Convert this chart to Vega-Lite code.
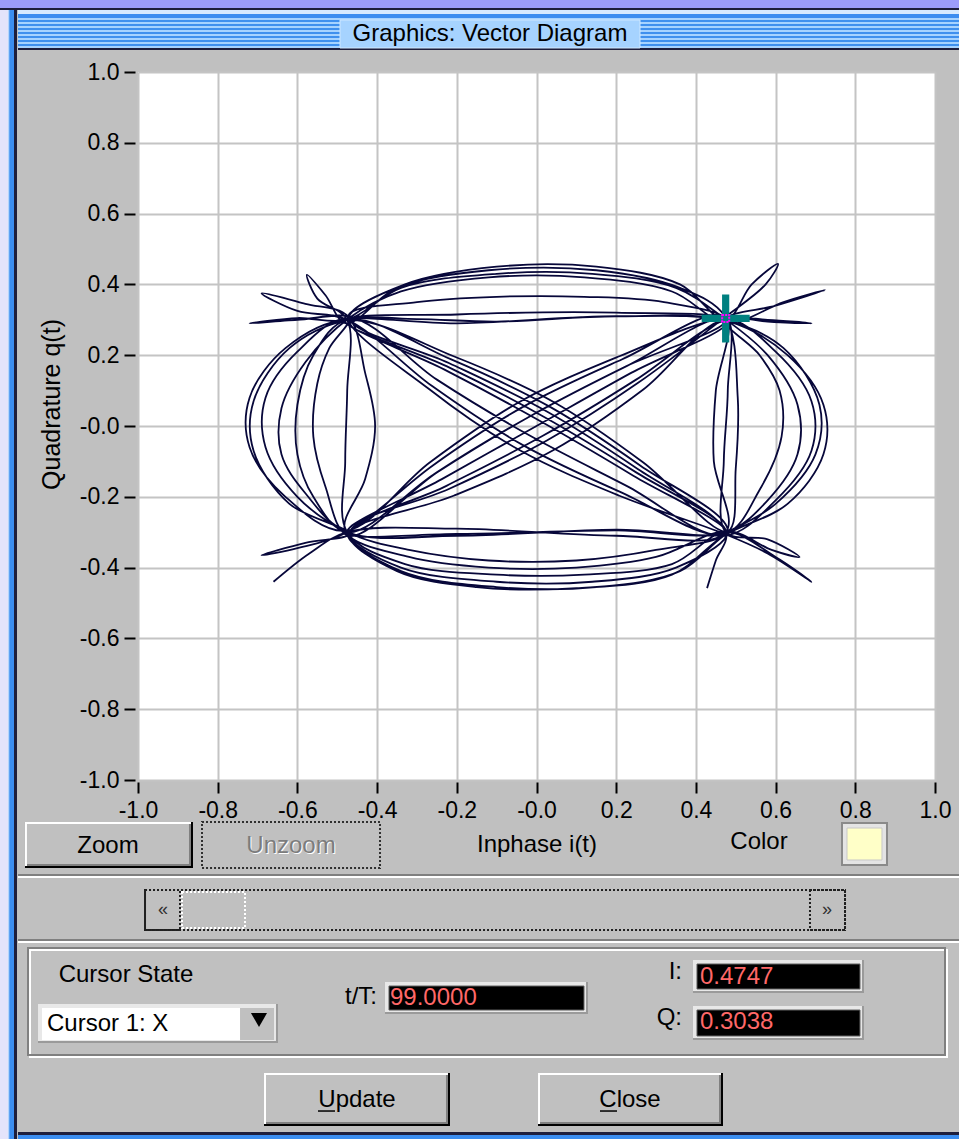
{
"$schema":"https://vega.github.io/schema/vega-lite/v6.json",
"width":797,"height":708,
"autosize":{"type":"none"},
"padding":{"left":138,"top":72,"right":24,"bottom":359},
"background":"#c0c0c0",
"config":{
 "font":"Liberation Sans",
 "view":{"fill":"#ffffff","stroke":null},
 "axis":{"grid":true,"gridColor":"#c4c4c4","gridWidth":2,"domain":false,"tickColor":"#000000","tickWidth":2,"tickSize":11,"labelFont":"Liberation Sans","labelFontSize":23,"labelColor":"#000000","titleFont":"Liberation Sans","titleFontSize":24,"titleFontWeight":"normal","titleColor":"#000000","labelOverlap":false,"labelFlush":false}
},
"datasets":{
"trace":[
{"t":1,"i":0.428,"q":-0.458},{"t":2,"i":0.45,"q":-0.38},{"t":3,"i":0.475,"q":-0.3},{"t":4,"i":0.255,"q":-0.122},{"t":5,"i":0.026,"q":0.041},{"t":6,"i":-0.22,"q":0.178},{"t":7,"i":-0.47,"q":0.305},{"t":8,"i":-0.33,"q":0.4},{"t":9,"i":-0.1,"q":0.45},{"t":10,"i":0.15,"q":0.45},
{"t":11,"i":0.36,"q":0.4},{"t":12,"i":0.475,"q":0.3},{"t":13,"i":0.54,"q":0.4},{"t":14,"i":0.606,"q":0.458},{"t":15,"i":0.575,"q":0.4},{"t":16,"i":0.47,"q":0.305},{"t":17,"i":0.255,"q":0.122},{"t":18,"i":0.026,"q":-0.041},{"t":19,"i":-0.22,"q":-0.178},{"t":20,"i":-0.475,"q":-0.3},
{"t":21,"i":-0.34,"q":-0.41},{"t":22,"i":-0.1,"q":-0.455},{"t":23,"i":0.15,"q":-0.455},{"t":24,"i":0.36,"q":-0.41},{"t":25,"i":0.47,"q":-0.31},{"t":26,"i":0.6,"q":-0.22},{"t":27,"i":0.7,"q":-0.08},{"t":28,"i":0.71,"q":0.06},{"t":29,"i":0.62,"q":0.22},{"t":30,"i":0.48,"q":0.296},
{"t":31,"i":0.2,"q":0.31},{"t":32,"i":-0.1,"q":0.295},{"t":33,"i":-0.3,"q":0.302},{"t":34,"i":-0.475,"q":0.3},{"t":35,"i":-0.62,"q":0.22},{"t":36,"i":-0.71,"q":0.07},{"t":37,"i":-0.71,"q":-0.07},{"t":38,"i":-0.62,"q":-0.22},{"t":39,"i":-0.47,"q":-0.305},{"t":40,"i":-0.58,"q":-0.33},
{"t":41,"i":-0.69,"q":-0.365},{"t":42,"i":-0.6,"q":-0.345},{"t":43,"i":-0.475,"q":-0.3},{"t":44,"i":-0.261,"q":-0.112},{"t":45,"i":-0.034,"q":0.054},{"t":46,"i":0.214,"q":0.188},{"t":47,"i":0.473,"q":0.31},{"t":48,"i":0.48,"q":0.1},{"t":49,"i":0.47,"q":-0.1},{"t":50,"i":0.475,"q":-0.3},
{"t":51,"i":0.58,"q":-0.32},{"t":52,"i":0.66,"q":-0.37},{"t":53,"i":0.59,"q":-0.35},{"t":54,"i":0.48,"q":-0.297},{"t":55,"i":0.3,"q":-0.37},{"t":56,"i":0.1,"q":-0.4},{"t":57,"i":-0.12,"q":-0.4},{"t":58,"i":-0.32,"q":-0.37},{"t":59,"i":-0.48,"q":-0.296},{"t":60,"i":-0.43,"q":-0.15},
{"t":61,"i":-0.405,"q":0},{"t":62,"i":-0.43,"q":0.15},{"t":63,"i":-0.473,"q":0.31},{"t":64,"i":-0.58,"q":0.345},{"t":65,"i":-0.69,"q":0.375},{"t":66,"i":-0.6,"q":0.325},{"t":67,"i":-0.475,"q":0.3},{"t":68,"i":-0.261,"q":0.112},{"t":69,"i":-0.034,"q":-0.054},{"t":70,"i":0.214,"q":-0.188},
{"t":71,"i":0.472,"q":-0.305},{"t":72,"i":0.56,"q":-0.18},{"t":73,"i":0.615,"q":-0.03},{"t":74,"i":0.61,"q":0.1},{"t":75,"i":0.56,"q":0.2},{"t":76,"i":0.475,"q":0.3},{"t":77,"i":0.6,"q":0.34},{"t":78,"i":0.724,"q":0.384},{"t":79,"i":0.62,"q":0.35},{"t":80,"i":0.477,"q":0.292},
{"t":81,"i":0.34,"q":0.38},{"t":82,"i":0.12,"q":0.42},{"t":83,"i":-0.12,"q":0.42},{"t":84,"i":-0.34,"q":0.38},{"t":85,"i":-0.47,"q":0.305},{"t":86,"i":-0.58,"q":0.18},{"t":87,"i":-0.64,"q":0.05},{"t":88,"i":-0.64,"q":-0.08},{"t":89,"i":-0.58,"q":-0.19},{"t":90,"i":-0.475,"q":-0.3},
{"t":91,"i":-0.2,"q":-0.31},{"t":92,"i":0.2,"q":-0.293},{"t":93,"i":0.475,"q":-0.3},{"t":94,"i":0.244,"q":-0.141},{"t":95,"i":0.009,"q":0.014},{"t":96,"i":-0.232,"q":0.16},{"t":97,"i":-0.48,"q":0.297},{"t":98,"i":-0.2,"q":0.29},{"t":99,"i":0.2,"q":0.31},{"t":100,"i":0.48,"q":0.296},
{"t":101,"i":0.63,"q":0.2},{"t":102,"i":0.72,"q":0.06},{"t":103,"i":0.72,"q":-0.08},{"t":104,"i":0.63,"q":-0.22},{"t":105,"i":0.47,"q":-0.31},{"t":106,"i":0.34,"q":-0.42},{"t":107,"i":0.1,"q":-0.458},{"t":108,"i":-0.15,"q":-0.455},{"t":109,"i":-0.35,"q":-0.41},{"t":110,"i":-0.47,"q":-0.305},
{"t":111,"i":-0.226,"q":-0.169},{"t":112,"i":0.017,"q":-0.027},{"t":113,"i":0.25,"q":0.131},{"t":114,"i":0.475,"q":0.3},{"t":115,"i":0.58,"q":0.3},{"t":116,"i":0.69,"q":0.29},{"t":117,"i":0.58,"q":0.295},{"t":118,"i":0.47,"q":0.305},{"t":119,"i":0.208,"q":0.197},{"t":120,"i":-0.043,"q":0.068},
{"t":121,"i":-0.268,"q":-0.103},{"t":122,"i":-0.48,"q":-0.296},{"t":123,"i":-0.63,"q":-0.2},{"t":124,"i":-0.72,"q":-0.06},{"t":125,"i":-0.72,"q":0.08},{"t":126,"i":-0.63,"q":0.22},{"t":127,"i":-0.475,"q":0.3},{"t":128,"i":-0.208,"q":0.197},{"t":129,"i":0.043,"q":0.068},{"t":130,"i":0.268,"q":-0.103},
{"t":131,"i":0.48,"q":-0.297},{"t":132,"i":0.5,"q":-0.12},{"t":133,"i":0.505,"q":0.08},{"t":134,"i":0.473,"q":0.31},{"t":135,"i":0.36,"q":0.39},{"t":136,"i":0.15,"q":0.44},{"t":137,"i":-0.12,"q":0.44},{"t":138,"i":-0.35,"q":0.39},{"t":139,"i":-0.478,"q":0.29},{"t":140,"i":-0.53,"q":0.37},
{"t":141,"i":-0.576,"q":0.427},{"t":142,"i":-0.55,"q":0.36},{"t":143,"i":-0.475,"q":0.3},{"t":144,"i":-0.475,"q":0.1},{"t":145,"i":-0.48,"q":-0.1},{"t":146,"i":-0.475,"q":-0.3},{"t":147,"i":-0.33,"q":-0.39},{"t":148,"i":-0.1,"q":-0.42},{"t":149,"i":0.12,"q":-0.42},{"t":150,"i":0.34,"q":-0.39},
{"t":151,"i":0.475,"q":-0.3},{"t":152,"i":0.6,"q":-0.37},{"t":153,"i":0.69,"q":-0.44},{"t":154,"i":0.58,"q":-0.36},{"t":155,"i":0.472,"q":-0.305},{"t":156,"i":0.208,"q":-0.197},{"t":157,"i":-0.043,"q":-0.068},{"t":158,"i":-0.268,"q":0.103},{"t":159,"i":-0.473,"q":0.31},{"t":160,"i":-0.3,"q":0.35},
{"t":161,"i":-0.1,"q":0.365},{"t":162,"i":0.12,"q":0.365},{"t":163,"i":0.32,"q":0.35},{"t":164,"i":0.475,"q":0.3},{"t":165,"i":0.226,"q":0.169},{"t":166,"i":-0.017,"q":0.027},{"t":167,"i":-0.25,"q":-0.131},{"t":168,"i":-0.472,"q":-0.31},{"t":169,"i":-0.53,"q":-0.17},{"t":170,"i":-0.56,"q":-0.03},
{"t":171,"i":-0.55,"q":0.12},{"t":172,"i":-0.52,"q":0.22},{"t":173,"i":-0.47,"q":0.305},{"t":174,"i":-0.6,"q":0.3},{"t":175,"i":-0.72,"q":0.29},{"t":176,"i":-0.6,"q":0.305},{"t":177,"i":-0.475,"q":0.3},{"t":178,"i":-0.34,"q":0.39},{"t":179,"i":-0.1,"q":0.43},{"t":180,"i":0.14,"q":0.43},
{"t":181,"i":0.35,"q":0.39},{"t":182,"i":0.47,"q":0.305},{"t":183,"i":0.58,"q":0.2},{"t":184,"i":0.655,"q":0.06},{"t":185,"i":0.655,"q":-0.08},{"t":186,"i":0.58,"q":-0.21},{"t":187,"i":0.475,"q":-0.3},{"t":188,"i":0.2,"q":-0.295},{"t":189,"i":-0.2,"q":-0.305},{"t":190,"i":-0.475,"q":-0.3},
{"t":191,"i":-0.2375,"q":-0.15},{"t":192,"i":0,"q":0},{"t":193,"i":0.2375,"q":0.15},{"t":194,"i":0.48,"q":0.296},{"t":195,"i":0.2,"q":0.32},{"t":196,"i":-0.2,"q":0.315},{"t":197,"i":-0.48,"q":0.297},{"t":198,"i":-0.226,"q":0.169},{"t":199,"i":0.017,"q":0.027},{"t":200,"i":0.25,"q":-0.131},
{"t":201,"i":0.475,"q":-0.3},{"t":202,"i":0.3,"q":-0.35},{"t":203,"i":0.1,"q":-0.38},{"t":204,"i":-0.12,"q":-0.38},{"t":205,"i":-0.32,"q":-0.35},{"t":206,"i":-0.475,"q":-0.3},{"t":207,"i":-0.6,"q":-0.2},{"t":208,"i":-0.68,"q":-0.06},{"t":209,"i":-0.68,"q":0.08},{"t":210,"i":-0.6,"q":0.21},
{"t":211,"i":-0.47,"q":0.305},{"t":212,"i":-0.25,"q":0.131},{"t":213,"i":-0.017,"q":-0.027},{"t":214,"i":0.226,"q":-0.169},{"t":215,"i":0.47,"q":-0.31},{"t":216,"i":0.6,"q":-0.21},{"t":217,"i":0.69,"q":-0.07},{"t":218,"i":0.69,"q":0.07},{"t":219,"i":0.6,"q":0.21},{"t":220,"i":0.475,"q":0.3},
{"t":221,"i":0.268,"q":0.103},{"t":222,"i":0.043,"q":-0.068},{"t":223,"i":-0.208,"q":-0.197},{"t":224,"i":-0.47,"q":-0.305},{"t":225,"i":-0.34,"q":-0.4},{"t":226,"i":-0.1,"q":-0.44},{"t":227,"i":0.14,"q":-0.44},{"t":228,"i":0.35,"q":-0.4},{"t":229,"i":0.48,"q":-0.297},{"t":230,"i":0.261,"q":-0.112},
{"t":231,"i":0.034,"q":0.054},{"t":232,"i":-0.214,"q":0.188},{"t":233,"i":-0.475,"q":0.3},{"t":234,"i":-0.56,"q":0.2},{"t":235,"i":-0.6,"q":0.06},{"t":236,"i":-0.6,"q":-0.08},{"t":237,"i":-0.56,"q":-0.2},{"t":238,"i":-0.475,"q":-0.3},{"t":239,"i":-0.25,"q":-0.131},{"t":240,"i":-0.017,"q":0.027},
{"t":241,"i":0.226,"q":0.169},{"t":242,"i":0.475,"q":0.3},{"t":243,"i":0.45,"q":0.1},{"t":244,"i":0.445,"q":-0.1},{"t":245,"i":0.475,"q":-0.3},{"t":246,"i":0.2,"q":-0.31},{"t":247,"i":-0.2,"q":-0.29},{"t":248,"i":-0.475,"q":-0.3},{"t":249,"i":-0.57,"q":-0.36},{"t":250,"i":-0.66,"q":-0.44}
],
"cursor":[{"i":0.4747,"q":0.3038}],
"raised":[{"x1":-1.2836,"x2":-0.862,"y1":-1.1186,"y2":-1.2486},{"x1":-0.6838,"x2":-0.2171,"y1":-1.8277,"y2":-1.9775},{"x1":0.0038,"x2":0.468,"y1":-1.8277,"y2":-1.9775}],
"fields":[{"x1":-0.3802,"x2":0.1292,"y1":-1.5707,"y2":-1.6611},{"x1":0.3927,"x2":0.8218,"y1":-1.5085,"y2":-1.6017},{"x1":0.3927,"x2":0.8218,"y1":-1.6385,"y2":-1.7345}],
"grooves":[{"x1":-1.3011,"x2":1.0602,"y":-1.2684},{"x1":-1.3011,"x2":1.0602,"y":-1.452}],
"groupbox":[{"x1":-1.276,"x2":1.0251,"y1":-1.4746,"y2":-1.7769}],
"scrollbar":[{"x1":-0.9824,"x2":0.7742,"y1":-1.3107,"y2":-1.4237}],
"scrollboxes":[{"x1":-0.9824,"x2":-0.8946,"y1":-1.3107,"y2":-1.4237},{"x1":0.6863,"x2":0.7742,"y1":-1.3107,"y2":-1.4237}],
"thumb":[{"x1":-0.8946,"x2":-0.7315,"y1":-1.3107,"y2":-1.4237}],
"textC":[{"x":-0.1167,"y":1.1073,"text":"Graphics: Vector Diagram"},{"x":-1.0753,"y":-1.1864,"text":"Zoom"},{"x":0.5583,"y":-1.1751,"text":"Color"},{"x":-1.0301,"y":-1.5508,"text":"Cursor State"},{"x":-0.4504,"y":-1.904,"text":"Update"},{"x":0.2346,"y":-1.904,"text":"Close"}],
"textR":[{"x":-0.4003,"y":-1.613,"text":"t/T:"},{"x":0.3651,"y":-1.5424,"text":"I:"},{"x":0.3651,"y":-1.6724,"text":"Q:"}],
"textRed":[{"x":-0.3676,"y":-1.6158,"text":"99.0000"},{"x":0.4103,"y":-1.5565,"text":"0.4747"},{"x":0.4103,"y":-1.6837,"text":"0.3038"}],
"underline":[{"x1":-0.5483,"x2":-0.5057,"y":-1.9351},{"x1":0.1593,"x2":0.202,"y":-1.9351}]
},
"layer":[
{"data":{"name":"trace"},
 "mark":{"type":"line","interpolate":"catmull-rom","color":"#07073a","strokeWidth":1.8,"clip":true},
 "encoding":{
  "x":{"field":"i","type":"quantitative","title":"Inphase i(t)","scale":{"domain":[-1,1],"nice":false,"zero":false},
       "axis":{"title":"Inphase i(t)","values":[-1,-0.8,-0.6,-0.4,-0.2,0,0.2,0.4,0.6,0.8,1],"labelExpr":"(datum.value <= 0 ? '-' : '') + format(abs(datum.value), '.1f')","offset":2,"labelPadding":6,"titlePadding":10}},
  "y":{"field":"q","type":"quantitative","title":"Quadrature q(t)","scale":{"domain":[-1,1],"nice":false,"zero":false},
       "axis":{"title":"Quadrature q(t)","values":[-1,-0.8,-0.6,-0.4,-0.2,0,0.2,0.4,0.6,0.8,1],"labelExpr":"(datum.value <= 0 ? '-' : '') + format(abs(datum.value), '.1f')","offset":3,"labelPadding":5,"titlePadding":15,"titleFontSize":25,"titleY":332}},
  "order":{"field":"t","type":"quantitative"}}},
{"data":{"name":"cursor"},
 "mark":{"type":"point","shape":"M-1,-0.15H1V0.15H-1Z M-0.15,-1H0.15V1H-0.15Z","filled":true,"color":"#008080","size":2304,"opacity":1,"strokeWidth":0},
 "encoding":{"x":{"field":"i","type":"quantitative","title":"Inphase i(t)","scale":{"domain":[-1,1],"nice":false,"zero":false}},"y":{"field":"q","type":"quantitative","title":"Quadrature q(t)","scale":{"domain":[-1,1],"nice":false,"zero":false}}}},
{"data":{"name":"cursor"},
 "mark":{"type":"point","shape":"square","filled":false,"color":"#ff00ff","size":50,"strokeWidth":2,"strokeDash":[2,1],"opacity":1},
 "encoding":{"x":{"field":"i","type":"quantitative","title":"Inphase i(t)","scale":{"domain":[-1,1],"nice":false,"zero":false}},"y":{"field":"q","type":"quantitative","title":"Quadrature q(t)","scale":{"domain":[-1,1],"nice":false,"zero":false}}}},
{"data":{"values":[{"x1":-1.3463,"x2":1.0602,"y1":1.2034,"y2":1.1525}]},
 "mark":{"type":"rect","fill":{"gradient":"linear","x1":0,"y1":0,"x2":0,"y2":1,"stops":[{"offset":0,"color":"#9c9cfa"},{"offset":0.44,"color":"#9c9cfa"},{"offset":0.44,"color":"#1e1e3c"},{"offset":0.56,"color":"#1e1e3c"},{"offset":0.56,"color":"#d6eaff"},{"offset":0.8,"color":"#d6eaff"},{"offset":0.8,"color":"#3b8df0"},{"offset":1,"color":"#3b8df0"}]}},
 "encoding":{"x":{"field":"x1","type":"quantitative","title":"Inphase i(t)","scale":{"domain":[-1,1],"nice":false,"zero":false}},"x2":{"field":"x2"},"y":{"field":"y1","type":"quantitative","title":"Quadrature q(t)","scale":{"domain":[-1,1],"nice":false,"zero":false}},"y2":{"field":"y2"}}},
{"data":{"values":[{"x1":-1.3463,"x2":1.0602,"y1":-1.9944,"y2":-2.0141}]},
 "mark":{"type":"rect","fill":{"gradient":"linear","x1":0,"y1":0,"x2":0,"y2":1,"stops":[{"offset":0,"color":"#1e1e3c"},{"offset":0.4,"color":"#1e1e3c"},{"offset":0.4,"color":"#3b8df0"},{"offset":1,"color":"#3b8df0"}]}},
 "encoding":{"x":{"field":"x1","type":"quantitative","title":"Inphase i(t)","scale":{"domain":[-1,1],"nice":false,"zero":false}},"x2":{"field":"x2"},"y":{"field":"y1","type":"quantitative","title":"Quadrature q(t)","scale":{"domain":[-1,1],"nice":false,"zero":false}},"y2":{"field":"y2"}}},
{"data":{"values":[{"x1":-1.3463,"x2":-1.3011,"y1":1.1751,"y2":-2.0141}]},
 "mark":{"type":"rect","fill":{"gradient":"linear","x1":0,"y1":0,"x2":1,"y2":0,"stops":[{"offset":0,"color":"#e4e4fb"},{"offset":0.45,"color":"#e4e4fb"},{"offset":0.45,"color":"#d6eaff"},{"offset":0.55,"color":"#3b8df0"},{"offset":0.8,"color":"#3b8df0"},{"offset":0.8,"color":"#1e1e3c"},{"offset":0.92,"color":"#1e1e3c"},{"offset":0.92,"color":"#c0c0c0"},{"offset":1,"color":"#c0c0c0"}]}},
 "encoding":{"x":{"field":"x1","type":"quantitative","title":"Inphase i(t)","scale":{"domain":[-1,1],"nice":false,"zero":false}},"x2":{"field":"x2"},"y":{"field":"y1","type":"quantitative","title":"Quadrature q(t)","scale":{"domain":[-1,1],"nice":false,"zero":false}},"y2":{"field":"y2"}}},
{"data":{"values":[{"x1":-1.3011,"x2":1.0602,"y1":1.1525,"y2":1.0621}]},
 "mark":{"type":"rect","fill":{"gradient":"linear","x1":0,"y1":0,"x2":0,"y2":1,"stops":[{"offset":0,"color":"#a6d3ff"},{"offset":0.0625,"color":"#a6d3ff"},{"offset":0.0625,"color":"#3f90ee"},{"offset":0.109,"color":"#3f90ee"},{"offset":0.109,"color":"#a6d3ff"},{"offset":0.1875,"color":"#a6d3ff"},{"offset":0.1875,"color":"#3f90ee"},{"offset":0.234,"color":"#3f90ee"},{"offset":0.234,"color":"#a6d3ff"},{"offset":0.3125,"color":"#a6d3ff"},{"offset":0.3125,"color":"#3f90ee"},{"offset":0.359,"color":"#3f90ee"},{"offset":0.359,"color":"#a6d3ff"},{"offset":0.4375,"color":"#a6d3ff"},{"offset":0.4375,"color":"#3f90ee"},{"offset":0.484,"color":"#3f90ee"},{"offset":0.484,"color":"#a6d3ff"},{"offset":0.5625,"color":"#a6d3ff"},{"offset":0.5625,"color":"#3f90ee"},{"offset":0.609,"color":"#3f90ee"},{"offset":0.609,"color":"#a6d3ff"},{"offset":0.6875,"color":"#a6d3ff"},{"offset":0.6875,"color":"#3f90ee"},{"offset":0.734,"color":"#3f90ee"},{"offset":0.734,"color":"#a6d3ff"},{"offset":0.8125,"color":"#a6d3ff"},{"offset":0.8125,"color":"#3f90ee"},{"offset":0.859,"color":"#3f90ee"},{"offset":0.859,"color":"#a6d3ff"},{"offset":0.9375,"color":"#a6d3ff"},{"offset":0.9375,"color":"#1e1e3c"},{"offset":1,"color":"#1e1e3c"}]}},
 "encoding":{"x":{"field":"x1","type":"quantitative","title":"Inphase i(t)","scale":{"domain":[-1,1],"nice":false,"zero":false}},"x2":{"field":"x2"},"y":{"field":"y1","type":"quantitative","title":"Quadrature q(t)","scale":{"domain":[-1,1],"nice":false,"zero":false}},"y2":{"field":"y2"}}},
{"data":{"values":[{"x1":-0.4931,"x2":0.2597,"y1":1.1469,"y2":1.0678}]},
 "mark":{"type":"rect","fill":"#a6d3ff","stroke":"#cfe8ff","strokeWidth":1},
 "encoding":{"x":{"field":"x1","type":"quantitative","title":"Inphase i(t)","scale":{"domain":[-1,1],"nice":false,"zero":false}},"x2":{"field":"x2"},"y":{"field":"y1","type":"quantitative","title":"Quadrature q(t)","scale":{"domain":[-1,1],"nice":false,"zero":false}},"y2":{"field":"y2"}}},
{"data":{"name":"grooves"},
 "mark":{"type":"rule","color":"#808080","strokeWidth":2},
 "encoding":{"x":{"field":"x1","type":"quantitative","title":"Inphase i(t)","scale":{"domain":[-1,1],"nice":false,"zero":false}},"x2":{"field":"x2"},"y":{"field":"y","type":"quantitative","title":"Quadrature q(t)","scale":{"domain":[-1,1],"nice":false,"zero":false}}}},
{"data":{"name":"grooves"},
 "mark":{"type":"rule","color":"#ffffff","strokeWidth":2,"yOffset":2},
 "encoding":{"x":{"field":"x1","type":"quantitative","title":"Inphase i(t)","scale":{"domain":[-1,1],"nice":false,"zero":false}},"x2":{"field":"x2"},"y":{"field":"y","type":"quantitative","title":"Quadrature q(t)","scale":{"domain":[-1,1],"nice":false,"zero":false}}}},
{"data":{"name":"groupbox"},
 "mark":{"type":"rect","fill":null,"fillOpacity":0,"stroke":"#ffffff","strokeWidth":2,"xOffset":2,"x2Offset":2,"yOffset":2,"y2Offset":2},
 "encoding":{"x":{"field":"x1","type":"quantitative","title":"Inphase i(t)","scale":{"domain":[-1,1],"nice":false,"zero":false}},"x2":{"field":"x2"},"y":{"field":"y1","type":"quantitative","title":"Quadrature q(t)","scale":{"domain":[-1,1],"nice":false,"zero":false}},"y2":{"field":"y2"}}},
{"data":{"name":"groupbox"},
 "mark":{"type":"rect","fill":null,"fillOpacity":0,"stroke":"#808080","strokeWidth":2},
 "encoding":{"x":{"field":"x1","type":"quantitative","title":"Inphase i(t)","scale":{"domain":[-1,1],"nice":false,"zero":false}},"x2":{"field":"x2"},"y":{"field":"y1","type":"quantitative","title":"Quadrature q(t)","scale":{"domain":[-1,1],"nice":false,"zero":false}},"y2":{"field":"y2"}}},
{"data":{"name":"raised"},
 "mark":{"type":"rect","fill":"#000000"},
 "encoding":{"x":{"field":"x1","type":"quantitative","title":"Inphase i(t)","scale":{"domain":[-1,1],"nice":false,"zero":false}},"x2":{"field":"x2"},"y":{"field":"y1","type":"quantitative","title":"Quadrature q(t)","scale":{"domain":[-1,1],"nice":false,"zero":false}},"y2":{"field":"y2"}}},
{"data":{"name":"raised"},
 "mark":{"type":"rect","fill":"#ffffff","x2Offset":-2,"y2Offset":-2},
 "encoding":{"x":{"field":"x1","type":"quantitative","title":"Inphase i(t)","scale":{"domain":[-1,1],"nice":false,"zero":false}},"x2":{"field":"x2"},"y":{"field":"y1","type":"quantitative","title":"Quadrature q(t)","scale":{"domain":[-1,1],"nice":false,"zero":false}},"y2":{"field":"y2"}}},
{"data":{"name":"raised"},
 "mark":{"type":"rect","fill":"#808080","xOffset":2,"yOffset":2,"x2Offset":-2,"y2Offset":-2},
 "encoding":{"x":{"field":"x1","type":"quantitative","title":"Inphase i(t)","scale":{"domain":[-1,1],"nice":false,"zero":false}},"x2":{"field":"x2"},"y":{"field":"y1","type":"quantitative","title":"Quadrature q(t)","scale":{"domain":[-1,1],"nice":false,"zero":false}},"y2":{"field":"y2"}}},
{"data":{"name":"raised"},
 "mark":{"type":"rect","fill":"#c0c0c0","xOffset":2,"yOffset":2,"x2Offset":-4,"y2Offset":-4},
 "encoding":{"x":{"field":"x1","type":"quantitative","title":"Inphase i(t)","scale":{"domain":[-1,1],"nice":false,"zero":false}},"x2":{"field":"x2"},"y":{"field":"y1","type":"quantitative","title":"Quadrature q(t)","scale":{"domain":[-1,1],"nice":false,"zero":false}},"y2":{"field":"y2"}}},
{"data":{"values":[{"x1":-0.8394,"x2":-0.3927,"y1":-1.1186,"y2":-1.2486}]},
 "mark":{"type":"rect","fill":"#c0c0c0","stroke":"#303030","strokeWidth":2,"strokeDash":[2,2]},
 "encoding":{"x":{"field":"x1","type":"quantitative","title":"Inphase i(t)","scale":{"domain":[-1,1],"nice":false,"zero":false}},"x2":{"field":"x2"},"y":{"field":"y1","type":"quantitative","title":"Quadrature q(t)","scale":{"domain":[-1,1],"nice":false,"zero":false}},"y2":{"field":"y2"}}},
{"data":{"values":[{"x1":0.7666,"x2":0.8795,"y1":-1.1215,"y2":-1.2401}]},
 "mark":{"type":"rect","fill":"#e4e4e4","stroke":"#8a8a8a","strokeWidth":2},
 "encoding":{"x":{"field":"x1","type":"quantitative","title":"Inphase i(t)","scale":{"domain":[-1,1],"nice":false,"zero":false}},"x2":{"field":"x2"},"y":{"field":"y1","type":"quantitative","title":"Quadrature q(t)","scale":{"domain":[-1,1],"nice":false,"zero":false}},"y2":{"field":"y2"}}},
{"data":{"values":[{"x1":0.7666,"x2":0.8795,"y1":-1.1215,"y2":-1.2401}]},
 "mark":{"type":"rect","fill":"#ffffc8","stroke":"#c8c8c8","strokeWidth":1,"xOffset":5,"yOffset":5,"x2Offset":-5,"y2Offset":-5},
 "encoding":{"x":{"field":"x1","type":"quantitative","title":"Inphase i(t)","scale":{"domain":[-1,1],"nice":false,"zero":false}},"x2":{"field":"x2"},"y":{"field":"y1","type":"quantitative","title":"Quadrature q(t)","scale":{"domain":[-1,1],"nice":false,"zero":false}},"y2":{"field":"y2"}}},
{"data":{"name":"scrollbar"},
 "mark":{"type":"rect","fill":"#c0c0c0","stroke":"#202020","strokeWidth":2,"strokeDash":[2,2]},
 "encoding":{"x":{"field":"x1","type":"quantitative","title":"Inphase i(t)","scale":{"domain":[-1,1],"nice":false,"zero":false}},"x2":{"field":"x2"},"y":{"field":"y1","type":"quantitative","title":"Quadrature q(t)","scale":{"domain":[-1,1],"nice":false,"zero":false}},"y2":{"field":"y2"}}},
{"data":{"name":"thumb"},
 "mark":{"type":"rect","fill":null,"fillOpacity":0,"stroke":"#ffffff","strokeWidth":2,"strokeDash":[2,2],"xOffset":2,"yOffset":2,"y2Offset":-2},
 "encoding":{"x":{"field":"x1","type":"quantitative","title":"Inphase i(t)","scale":{"domain":[-1,1],"nice":false,"zero":false}},"x2":{"field":"x2"},"y":{"field":"y1","type":"quantitative","title":"Quadrature q(t)","scale":{"domain":[-1,1],"nice":false,"zero":false}},"y2":{"field":"y2"}}},
{"data":{"name":"scrollboxes"},
 "mark":{"type":"rect","fill":null,"fillOpacity":0,"stroke":"#202020","strokeWidth":2,"strokeDash":[2,2]},
 "encoding":{"x":{"field":"x1","type":"quantitative","title":"Inphase i(t)","scale":{"domain":[-1,1],"nice":false,"zero":false}},"x2":{"field":"x2"},"y":{"field":"y1","type":"quantitative","title":"Quadrature q(t)","scale":{"domain":[-1,1],"nice":false,"zero":false}},"y2":{"field":"y2"}}},
{"data":{"values":[{"x":-0.9373,"y":-1.3672,"text":"«"},{"x":0.729,"y":-1.3672,"text":"»"}]},
 "mark":{"type":"text","fontSize":18,"color":"#303030","align":"center","baseline":"middle"},
 "encoding":{"x":{"field":"x","type":"quantitative","title":"Inphase i(t)","scale":{"domain":[-1,1],"nice":false,"zero":false}},"y":{"field":"y","type":"quantitative","title":"Quadrature q(t)","scale":{"domain":[-1,1],"nice":false,"zero":false}},"text":{"field":"text"}}},
{"data":{"name":"fields"},
 "mark":{"type":"rect","fill":"#9a9a9a"},
 "encoding":{"x":{"field":"x1","type":"quantitative","title":"Inphase i(t)","scale":{"domain":[-1,1],"nice":false,"zero":false}},"x2":{"field":"x2"},"y":{"field":"y1","type":"quantitative","title":"Quadrature q(t)","scale":{"domain":[-1,1],"nice":false,"zero":false}},"y2":{"field":"y2"}}},
{"data":{"name":"fields"},
 "mark":{"type":"rect","fill":"#e8e8e8","x2Offset":-2,"y2Offset":-2},
 "encoding":{"x":{"field":"x1","type":"quantitative","title":"Inphase i(t)","scale":{"domain":[-1,1],"nice":false,"zero":false}},"x2":{"field":"x2"},"y":{"field":"y1","type":"quantitative","title":"Quadrature q(t)","scale":{"domain":[-1,1],"nice":false,"zero":false}},"y2":{"field":"y2"}}},
{"data":{"name":"fields"},
 "mark":{"type":"rect","fill":"#000000","stroke":"#606060","strokeWidth":1,"xOffset":4,"yOffset":4,"x2Offset":-4,"y2Offset":-4},
 "encoding":{"x":{"field":"x1","type":"quantitative","title":"Inphase i(t)","scale":{"domain":[-1,1],"nice":false,"zero":false}},"x2":{"field":"x2"},"y":{"field":"y1","type":"quantitative","title":"Quadrature q(t)","scale":{"domain":[-1,1],"nice":false,"zero":false}},"y2":{"field":"y2"}}},
{"data":{"values":[{"x1":-1.2509,"x2":-0.6487,"y1":-1.6328,"y2":-1.743}]},
 "mark":{"type":"rect","fill":"#9a9a9a"},
 "encoding":{"x":{"field":"x1","type":"quantitative","title":"Inphase i(t)","scale":{"domain":[-1,1],"nice":false,"zero":false}},"x2":{"field":"x2"},"y":{"field":"y1","type":"quantitative","title":"Quadrature q(t)","scale":{"domain":[-1,1],"nice":false,"zero":false}},"y2":{"field":"y2"}}},
{"data":{"values":[{"x1":-1.2509,"x2":-0.6487,"y1":-1.6328,"y2":-1.743}]},
 "mark":{"type":"rect","fill":"#e8e8e8","x2Offset":-2,"y2Offset":-2},
 "encoding":{"x":{"field":"x1","type":"quantitative","title":"Inphase i(t)","scale":{"domain":[-1,1],"nice":false,"zero":false}},"x2":{"field":"x2"},"y":{"field":"y1","type":"quantitative","title":"Quadrature q(t)","scale":{"domain":[-1,1],"nice":false,"zero":false}},"y2":{"field":"y2"}}},
{"data":{"values":[{"x1":-1.2409,"x2":-0.744,"y1":-1.6441,"y2":-1.7345}]},
 "mark":{"type":"rect","fill":"#ffffff"},
 "encoding":{"x":{"field":"x1","type":"quantitative","title":"Inphase i(t)","scale":{"domain":[-1,1],"nice":false,"zero":false}},"x2":{"field":"x2"},"y":{"field":"y1","type":"quantitative","title":"Quadrature q(t)","scale":{"domain":[-1,1],"nice":false,"zero":false}},"y2":{"field":"y2"}}},
{"data":{"values":[{"x1":-0.744,"x2":-0.6587,"y1":-1.6441,"y2":-1.7345}]},
 "mark":{"type":"rect","fill":"#c0c0c0"},
 "encoding":{"x":{"field":"x1","type":"quantitative","title":"Inphase i(t)","scale":{"domain":[-1,1],"nice":false,"zero":false}},"x2":{"field":"x2"},"y":{"field":"y1","type":"quantitative","title":"Quadrature q(t)","scale":{"domain":[-1,1],"nice":false,"zero":false}},"y2":{"field":"y2"}}},
{"data":{"values":[{"x":-0.6964,"y":-1.678}]},
 "mark":{"type":"point","shape":"triangle-down","filled":true,"color":"#000000","size":260,"opacity":1},
 "encoding":{"x":{"field":"x","type":"quantitative","title":"Inphase i(t)","scale":{"domain":[-1,1],"nice":false,"zero":false}},"y":{"field":"y","type":"quantitative","title":"Quadrature q(t)","scale":{"domain":[-1,1],"nice":false,"zero":false}}}},
{"data":{"name":"textC"},
 "mark":{"type":"text","fontSize":24,"color":"#000000","align":"center","baseline":"middle"},
 "encoding":{"x":{"field":"x","type":"quantitative","title":"Inphase i(t)","scale":{"domain":[-1,1],"nice":false,"zero":false}},"y":{"field":"y","type":"quantitative","title":"Quadrature q(t)","scale":{"domain":[-1,1],"nice":false,"zero":false}},"text":{"field":"text"}}},
{"data":{"name":"textR"},
 "mark":{"type":"text","fontSize":24,"color":"#000000","align":"right","baseline":"middle"},
 "encoding":{"x":{"field":"x","type":"quantitative","title":"Inphase i(t)","scale":{"domain":[-1,1],"nice":false,"zero":false}},"y":{"field":"y","type":"quantitative","title":"Quadrature q(t)","scale":{"domain":[-1,1],"nice":false,"zero":false}},"text":{"field":"text"}}},
{"data":{"values":[{"x":-1.2284,"y":-1.6893,"text":"Cursor 1: X"}]},
 "mark":{"type":"text","fontSize":24,"color":"#000000","align":"left","baseline":"middle"},
 "encoding":{"x":{"field":"x","type":"quantitative","title":"Inphase i(t)","scale":{"domain":[-1,1],"nice":false,"zero":false}},"y":{"field":"y","type":"quantitative","title":"Quadrature q(t)","scale":{"domain":[-1,1],"nice":false,"zero":false}},"text":{"field":"text"}}},
{"data":{"name":"textRed"},
 "mark":{"type":"text","fontSize":24,"color":"#ff6868","align":"left","baseline":"middle"},
 "encoding":{"x":{"field":"x","type":"quantitative","title":"Inphase i(t)","scale":{"domain":[-1,1],"nice":false,"zero":false}},"y":{"field":"y","type":"quantitative","title":"Quadrature q(t)","scale":{"domain":[-1,1],"nice":false,"zero":false}},"text":{"field":"text"}}},
{"data":{"values":[{"x":-0.6161,"y":-1.1864,"text":"Unzoom"}]},
 "mark":{"type":"text","fontSize":24,"color":"#ffffff","align":"center","baseline":"middle","dx":1,"dy":1},
 "encoding":{"x":{"field":"x","type":"quantitative","title":"Inphase i(t)","scale":{"domain":[-1,1],"nice":false,"zero":false}},"y":{"field":"y","type":"quantitative","title":"Quadrature q(t)","scale":{"domain":[-1,1],"nice":false,"zero":false}},"text":{"field":"text"}}},
{"data":{"values":[{"x":-0.6161,"y":-1.1864,"text":"Unzoom"}]},
 "mark":{"type":"text","fontSize":24,"color":"#7c7c7c","align":"center","baseline":"middle"},
 "encoding":{"x":{"field":"x","type":"quantitative","title":"Inphase i(t)","scale":{"domain":[-1,1],"nice":false,"zero":false}},"y":{"field":"y","type":"quantitative","title":"Quadrature q(t)","scale":{"domain":[-1,1],"nice":false,"zero":false}},"text":{"field":"text"}}},
{"data":{"name":"underline"},
 "mark":{"type":"rule","color":"#000000","strokeWidth":1.5},
 "encoding":{"x":{"field":"x1","type":"quantitative","title":"Inphase i(t)","scale":{"domain":[-1,1],"nice":false,"zero":false}},"x2":{"field":"x2"},"y":{"field":"y","type":"quantitative","title":"Quadrature q(t)","scale":{"domain":[-1,1],"nice":false,"zero":false}}}}
]
}
